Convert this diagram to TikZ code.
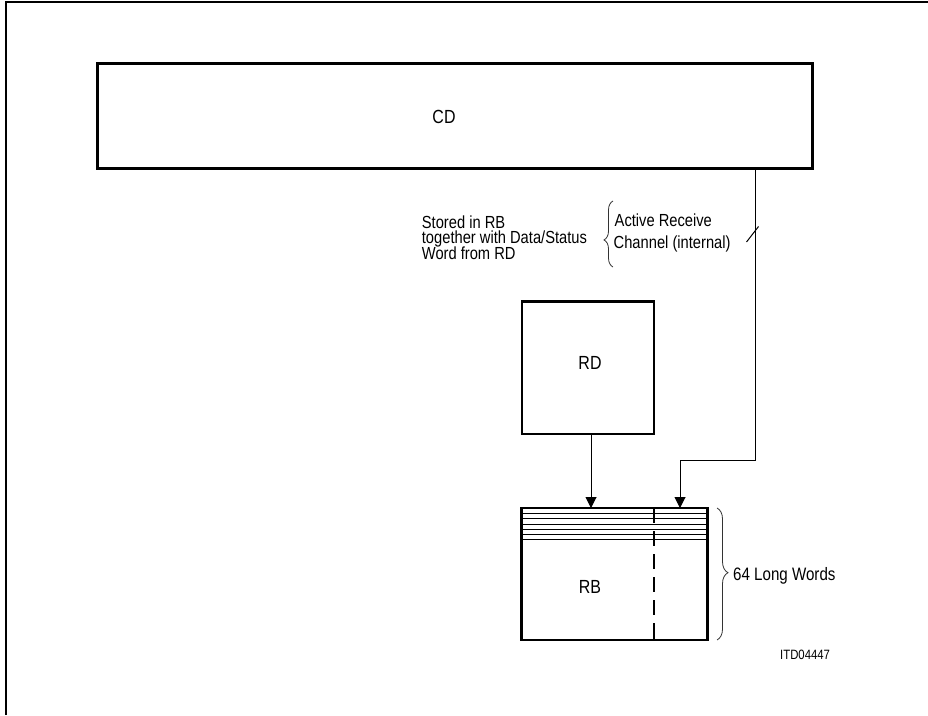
\documentclass[tikz,border=0pt]{standalone}
\usepackage{fontspec}
\setmainfont[FakeStretch=0.84]{Liberation Sans}
\usetikzlibrary{arrows.meta,decorations.pathreplacing,calc}
\begin{document}
\begin{tikzpicture}[x=1pt,y=-1pt,
  frameline/.style={line width=2pt},
  bigbox/.style={draw, line width=3pt, inner sep=0pt, outer sep=0pt},
  wire/.style={line width=1pt},
  arr/.style={line width=1pt, -{Triangle[width=11pt,length=11pt]}},
  lbl/.style={inner sep=0pt, anchor=base west, font=\fontsize{17.5}{16}\selectfont},
  boxlbl/.style={inner sep=0pt, anchor=base, font=\fontsize{19}{19}\selectfont},
  bracestyle/.style={line width=0.8pt, draw=black!80, decorate}]
\useasboundingbox (0,0) rectangle (928,715);
% partial frame
\draw[frameline] (5.5,715) -- (5.5,2) -- (928,2);
% boxes
\node[bigbox, minimum width=714.7pt, minimum height=105.7pt] (CD) at (455.3,115.9) {};
\node[bigbox, line width=2.7pt, minimum width=132pt, minimum height=132.3pt] (RD) at (588,367.8) {};
\node[bigbox, line width=2.7pt, minimum width=186.4pt, minimum height=132pt] (RB) at (614.5,574) {};
% labels in boxes
\node[boxlbl] (cdt) at (444,123) {CD};
\node[boxlbl] (rdt) at (590,369.3) {RD};
\node[boxlbl] (rbt) at (590,593) {RB};
% rows in RB
\foreach \yy in {513.5,518.5,524,529,534.5,539.5}
  \draw[line width=0.9pt] (521.3,\yy) -- (707.7,\yy);
% divider in RB
\foreach \ya/\yb in {508/523,531/546,554/569,577/592,600/615,623/640}
  \draw[line width=2.5pt] (654,\ya) -- (654,\yb);
% connectors
\coordinate (c1) at (755,460);
\coordinate (c2) at (680,460);
\draw[arr] (CD.south -| c1) -- (c1) -- (c2) -- (c2 |- RB.north);
\draw[arr] ([xshift=3pt]RD.south) -- ([xshift=3pt]RD.south |- RB.north);
% bus slash
\draw[wire] (746.5,242) -- (758.5,226.5);
% annotations
\node[lbl] (stored) at (421.7,228) {\vtop{\baselineskip=15.9pt\lineskiplimit=-20pt
  \hbox{Stored in RB}\hbox{together with Data/Status}\hbox{Word from RD}}};
\node[lbl] (active) at (614.5,226.7) {\vtop{\baselineskip=21.6pt\lineskiplimit=-20pt
  \hbox{Active Receive}\hbox{\kern-1pt Channel (internal)}}};
\draw[bracestyle, decoration={brace, amplitude=9pt, aspect=0.41}] (613,267) -- (613,201);
\draw[bracestyle, decoration={brace, amplitude=11pt, aspect=0.49}] (717,508) -- (717,640);
\node[lbl, font=\fontsize{18}{18}\selectfont] (lw) at (733,580) {64 Long Words};
\node[lbl, font=\fontsize{13.5}{13.5}\selectfont] (itd) at (780,659) {ITD04447};
\end{tikzpicture}
\end{document}
